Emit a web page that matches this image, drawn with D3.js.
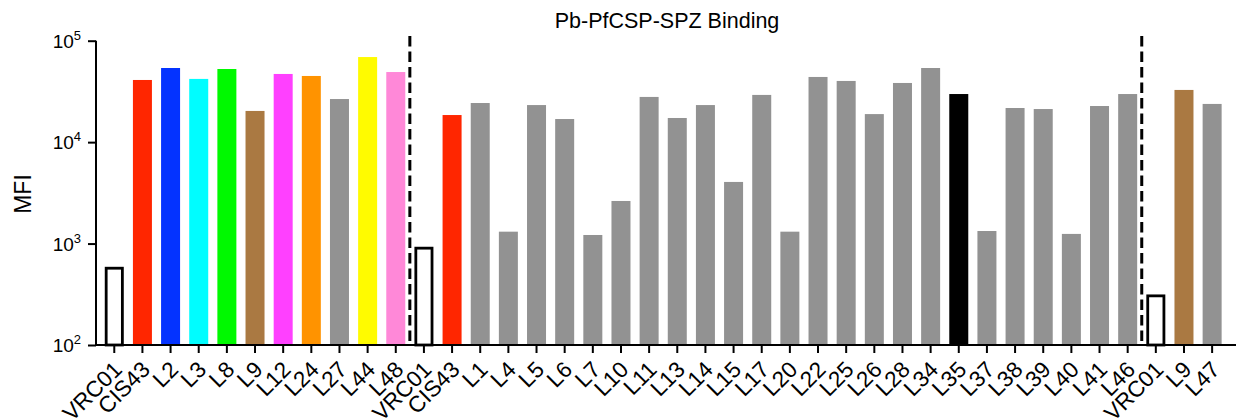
<!DOCTYPE html>
<html><head><meta charset="utf-8">
<script src="https://cdn.jsdelivr.net/npm/d3@7"></script>
<style>
html,body{margin:0;padding:0;background:#fff;}
text{font-family:"Liberation Sans",Arial,Helvetica,sans-serif;fill:#000;}
</style></head>
<body><svg id="c" width="1236" height="420"></svg>
<script>
// ---- data ----
const categories = ["VRC01","CIS43","L2","L3","L8","L9","L12","L24","L27","L44","L48",
  "VRC01","CIS43","L1","L4","L5","L6","L7","L10","L11","L13","L14","L15","L17","L20","L22","L25","L26","L28","L34","L35","L37","L38","L39","L40","L41","L46",
  "VRC01","L9","L47"];
const groupSizes = [11, 26, 3];
const mfi = [590, 41000, 53800, 42000, 52600, 20300, 47000, 44900, 26600, 69000, 49100,
  930, 18500, 24300, 1310, 23200, 16900, 1215, 2630, 27900, 17300, 23200, 4050, 29200, 1310, 43900, 40100, 18900, 38300, 53800, 29800, 1330, 21700, 21200, 1245, 22700, 29800,
  315, 32700, 23800];
const yTicks = [1e2, 1e3, 1e4, 1e5];
const yExponents = ["2","3","4","5"];
const title = "Pb-PfCSP-SPZ Binding";
const yTitle = "MFI";
const labelColors = {CIS43:"#FF2600", L2:"#0433FF", L3:"#00FDFF", L8:"#00F900", L9:"#AA7942",
  L12:"#FF40FF", L24:"#FF9300", L44:"#FFFB00", L48:"#FF88D8", L35:"#000000"};
const defaultColor = "#929292";

// ---- chart ----
const svg = d3.select("#c");
const axisX = 96, plotTop = 40.7, plotBottom = 345;
const idx = categories.map((d,i)=>i);
const x = d3.scaleBand().domain(idx).range([100.2, 1226.2]).paddingInner(0.325).paddingOuter(0.1625);
const y = d3.scaleLog().domain([1e2, 1e5]).range([plotBottom, plotTop]);

// bars
const g = svg.append("g");
idx.forEach(i=>{
  const lab = categories[i];
  if (lab === "VRC01") {
    g.append("rect").attr("x", x(i)+1.4).attr("width", x.bandwidth()-2.8)
      .attr("y", y(mfi[i])+1.4).attr("height", plotBottom - y(mfi[i]) - 1.4)
      .attr("fill","#fff").attr("stroke","#000").attr("stroke-width",2.8);
  } else {
    g.append("rect").attr("x", x(i)).attr("width", x.bandwidth())
      .attr("y", y(mfi[i])).attr("height", plotBottom - y(mfi[i]))
      .attr("fill", labelColors[lab] || defaultColor);
  }
});

// dashed separators
let acc = 0;
groupSizes.slice(0,-1).forEach(n=>{
  acc += n;
  const xm = (x(acc-1) + x.bandwidth()/2 + x(acc) + x.bandwidth()/2)/2;
  svg.append("line").attr("x1",xm).attr("x2",xm).attr("y1",36).attr("y2",plotBottom)
    .attr("stroke","#000").attr("stroke-width",3).attr("stroke-dasharray","10.5,5");
});

// x axis
const xa = svg.append("g").attr("transform",`translate(0,${plotBottom})`)
  .call(d3.axisBottom(x).tickSize(8).tickSizeOuter(0).tickFormat(""));
xa.select(".domain").remove();
xa.selectAll(".tick line").attr("stroke","#000").attr("stroke-width",2);
svg.append("line").attr("x1",axisX-1).attr("x2",1236).attr("y1",plotBottom).attr("y2",plotBottom)
  .attr("stroke","#000").attr("stroke-width",2);
idx.forEach(i=>{
  const cx = x(i) + x.bandwidth()/2 + 9;
  svg.append("text").attr("transform",`translate(${cx},${plotBottom+26}) rotate(-45)`)
    .attr("text-anchor","end").attr("font-size",22.5).text(categories[i]);
});

// y axis
const ya = svg.append("g").attr("transform",`translate(${axisX},0)`)
  .call(d3.axisLeft(y).tickValues(yTicks).tickSize(8).tickFormat(""));
ya.select(".domain").attr("stroke","#000").attr("stroke-width",2).attr("d",`M0,${plotTop}V${plotBottom}`);
ya.selectAll(".tick line").attr("stroke","#000").attr("stroke-width",2);
yTicks.forEach((v,k)=>{
  const t = svg.append("text").attr("x",81).attr("y",y(v)+7).attr("text-anchor","end").attr("font-size",19);
  t.append("tspan").text("10");
  t.append("tspan").attr("dy",-8).attr("font-size",13).text(yExponents[k]);
});

// titles
svg.append("text").attr("x",667).attr("y",28).attr("text-anchor","middle").attr("font-size",21.5).text(title);
svg.append("text").attr("transform","translate(31,194) rotate(-90)").attr("text-anchor","middle").attr("font-size",23).text(yTitle);
</script></body></html>
